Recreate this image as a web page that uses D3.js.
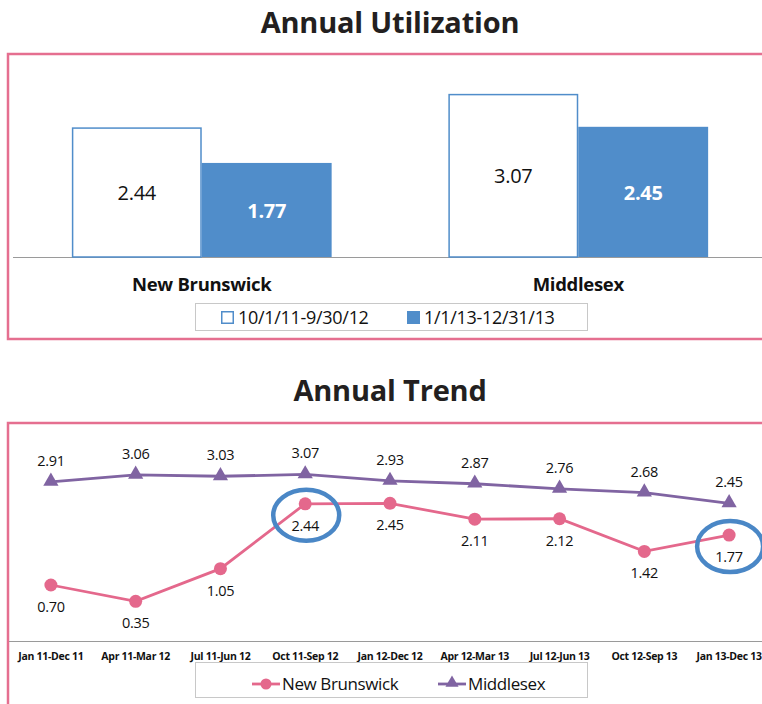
<!DOCTYPE html>
<html>
<head>
<meta charset="utf-8">
<script src="https://cdn.jsdelivr.net/npm/d3@7"></script>
<style>
  html, body { margin: 0; padding: 0; background: #fff; }
  svg { display: block; }
  text { font-family: "Open Sans", "Noto Sans", sans-serif; }
</style>
</head>
<body>
<svg id="chart" width="762" height="704"></svg>
<script>
// ---- Annual Utilization (bars) ----
const barCategories = ["New Brunswick", "Middlesex"];
const periods = ["10/1/11-9/30/12", "1/1/13-12/31/13"];
const periodPrior = [2.44, 3.07];
const periodCurrent = [1.77, 2.45];

// ---- Annual Trend (lines) ----
const trendCategories = ["Jan 11-Dec 11", "Apr 11-Mar 12", "Jul 11-Jun 12", "Oct 11-Sep 12",
  "Jan 12-Dec 12", "Apr 12-Mar 13", "Jul 12-Jun 13", "Oct 12-Sep 13", "Jan 13-Dec 13"];
const newBrunswick = [0.70, 0.35, 1.05, 2.44, 2.45, 2.11, 2.12, 1.42, 1.77];
const middlesex = [2.91, 3.06, 3.03, 3.07, 2.93, 2.87, 2.76, 2.68, 2.45];
const highlighted = [3, 8]; // points circled on the New Brunswick series

const PINK = "#e4688c", PURPLE = "#8064a2", BLUE = "#508dca", FRAME = "#e56f90";

const svg = d3.select("#chart");

// ================= Bar chart =================
svg.append("text").attr("x", 390).attr("y", 33).attr("text-anchor", "middle")
  .attr("font-size", 29).attr("font-weight", 700).attr("fill", "#231f20")
  .attr("letter-spacing", -0.2).text("Annual Utilization");

svg.append("path").attr("d", "M770,54 H8 V339 H770")
  .attr("fill", "none").attr("stroke", FRAME).attr("stroke-width", 2.5);

const xb = d3.scaleBand().domain(barCategories).range([13.5, 766.5]).paddingInner(0.31).paddingOuter(0.155);
const xs = d3.scaleBand().domain(periods).range([0, xb.bandwidth()]);
const yb = d3.scaleLinear().domain([0, 3.5]).range([257, 71]);

svg.append("line").attr("x1", 13).attr("x2", 762).attr("y1", 257.5).attr("y2", 257.5)
  .attr("stroke", "#9a9a9a").attr("stroke-width", 1);

const barData = [];
barCategories.forEach((c, i) => {
  barData.push({ cat: c, period: periods[0], v: periodPrior[i] });
  barData.push({ cat: c, period: periods[1], v: periodCurrent[i] });
});

const bars = svg.append("g");
bars.selectAll("rect").data(barData).join("rect")
  .attr("x", d => xb(d.cat) + xs(d.period) + (d.period === periods[0] ? 0.75 : 0))
  .attr("y", d => yb(d.v) + (d.period === periods[0] ? 0.75 : 0))
  .attr("width", d => xs.bandwidth() - (d.period === periods[0] ? 1.5 : 0))
  .attr("height", d => yb(0) - yb(d.v) - (d.period === periods[0] ? 0.75 : 0))
  .attr("fill", d => d.period === periods[0] ? "#fff" : BLUE)
  .attr("stroke", d => d.period === periods[0] ? BLUE : "none")
  .attr("stroke-width", 1.5);

bars.selectAll("text").data(barData).join("text")
  .attr("x", d => xb(d.cat) + xs(d.period) + xs.bandwidth() / 2)
  .attr("y", d => (yb(d.v) + yb(0)) / 2 + 8)
  .attr("text-anchor", "middle")
  .attr("font-size", 20)
  .attr("font-weight", d => d.period === periods[0] ? 400 : 700)
  .attr("fill", d => d.period === periods[0] ? "#111" : "#fff")
  .attr("letter-spacing", -0.3)
  .text(d => d.v.toFixed(2));

svg.append("g").selectAll("text").data(barCategories).join("text")
  .attr("x", d => xb(d) + xb.bandwidth() / 2)
  .attr("y", 291).attr("text-anchor", "middle")
  .attr("font-size", 18.5).attr("font-weight", 700).attr("fill", "#111")
  .attr("letter-spacing", -0.3)
  .text(d => d);

// bar legend
svg.append("rect").attr("x", 195.5).attr("y", 303.5).attr("width", 392).attr("height", 27)
  .attr("fill", "#fff").attr("stroke", "#c8c8c8").attr("stroke-width", 1);
const barLegend = svg.append("g").selectAll("g").data(periods).join("g")
  .attr("transform", (d, i) => `translate(${i === 0 ? 221 : 407},311)`);
barLegend.append("rect").attr("x", 0.75).attr("y", 0.75).attr("width", 11.5).attr("height", 11.5)
  .attr("fill", (d, i) => i === 0 ? "#fff" : BLUE)
  .attr("stroke", BLUE).attr("stroke-width", 1.5);
barLegend.append("text").attr("x", 17).attr("y", 13)
  .attr("font-size", 18).attr("fill", "#111").attr("letter-spacing", -0.3)
  .text(d => d);

// ================= Line chart =================
svg.append("text").attr("x", 390).attr("y", 401).attr("text-anchor", "middle")
  .attr("font-size", 29).attr("font-weight", 700).attr("fill", "#231f20")
  .attr("letter-spacing", -0.2).text("Annual Trend");

svg.append("path").attr("d", "M770,423 H8 V710")
  .attr("fill", "none").attr("stroke", FRAME).attr("stroke-width", 2.5);

const xl = d3.scalePoint().domain(trendCategories).range([8.5, 771.5]).padding(0.5);
const yl = d3.scaleLinear().domain([-0.5, 4]).range([641, 431]);

svg.append("line").attr("x1", 9).attr("x2", 762).attr("y1", 641.5).attr("y2", 641.5)
  .attr("stroke", "#9a9a9a").attr("stroke-width", 1);

svg.append("g").selectAll("text").data(trendCategories).join("text")
  .attr("x", d => xl(d)).attr("y", 659.5).attr("text-anchor", "middle")
  .attr("font-size", 10.5).attr("font-weight", 700).attr("fill", "#111")
  .attr("letter-spacing", -0.3)
  .text(d => d);

const line = d3.line().x((d, i) => xl(trendCategories[i])).y(d => yl(d));
const tri = d3.symbol().type(d3.symbolTriangle).size(100);

// Middlesex series
svg.append("path").datum(middlesex).attr("d", line)
  .attr("fill", "none").attr("stroke", PURPLE).attr("stroke-width", 2.8);
svg.append("g").selectAll("path").data(middlesex).join("path")
  .attr("d", tri).attr("fill", PURPLE)
  .attr("transform", (d, i) => `translate(${xl(trendCategories[i])},${yl(d) - 0.5})`);
svg.append("g").selectAll("text").data(middlesex).join("text")
  .attr("x", (d, i) => xl(trendCategories[i])).attr("y", d => yl(d) - 16)
  .attr("text-anchor", "middle").attr("font-size", 14.5).attr("fill", "#111")
  .attr("letter-spacing", -0.3)
  .text(d => d.toFixed(2));

// New Brunswick series
svg.append("path").datum(newBrunswick).attr("d", line)
  .attr("fill", "none").attr("stroke", PINK).attr("stroke-width", 2.8);
svg.append("g").selectAll("circle").data(newBrunswick).join("circle")
  .attr("cx", (d, i) => xl(trendCategories[i])).attr("cy", d => yl(d))
  .attr("r", 6.5).attr("fill", PINK);
svg.append("g").selectAll("text").data(newBrunswick).join("text")
  .attr("x", (d, i) => xl(trendCategories[i])).attr("y", d => yl(d) + 27)
  .attr("text-anchor", "middle").attr("font-size", 14.5).attr("fill", "#111")
  .attr("letter-spacing", -0.3)
  .text(d => d.toFixed(2));

// circled points
svg.append("g").selectAll("ellipse").data(highlighted).join("ellipse")
  .attr("cx", i => xl(trendCategories[i]) + 1)
  .attr("cy", i => yl(newBrunswick[i]) + 11.5)
  .attr("rx", 33).attr("ry", 25.5)
  .attr("fill", "none").attr("stroke", "#4a87c6").attr("stroke-width", 4.5);

// line legend
svg.append("rect").attr("x", 195.5).attr("y", 662.5).attr("width", 392).attr("height", 35)
  .attr("fill", "#fff").attr("stroke", "#c8c8c8").attr("stroke-width", 1);
const lineLegend = svg.append("g").selectAll("g").data([
  { name: "New Brunswick", color: PINK, marker: "circle", x: 252 },
  { name: "Middlesex", color: PURPLE, marker: "triangle", x: 438 }
]).join("g").attr("transform", d => `translate(${d.x},684)`);
lineLegend.append("line").attr("x1", 0).attr("x2", 28)
  .attr("stroke", d => d.color).attr("stroke-width", 2.8);
lineLegend.each(function (d) {
  const g = d3.select(this);
  if (d.marker === "circle") {
    g.append("circle").attr("cx", 14).attr("cy", 0).attr("r", 5.5).attr("fill", d.color);
  } else {
    g.append("path").attr("d", d3.symbol().type(d3.symbolTriangle).size(75))
      .attr("transform", "translate(14,-1)").attr("fill", d.color);
  }
});
lineLegend.append("text").attr("x", 30).attr("y", 6)
  .attr("font-size", 17).attr("fill", "#111").attr("letter-spacing", -0.4)
  .text(d => d.name);
</script>
</body>
</html>
